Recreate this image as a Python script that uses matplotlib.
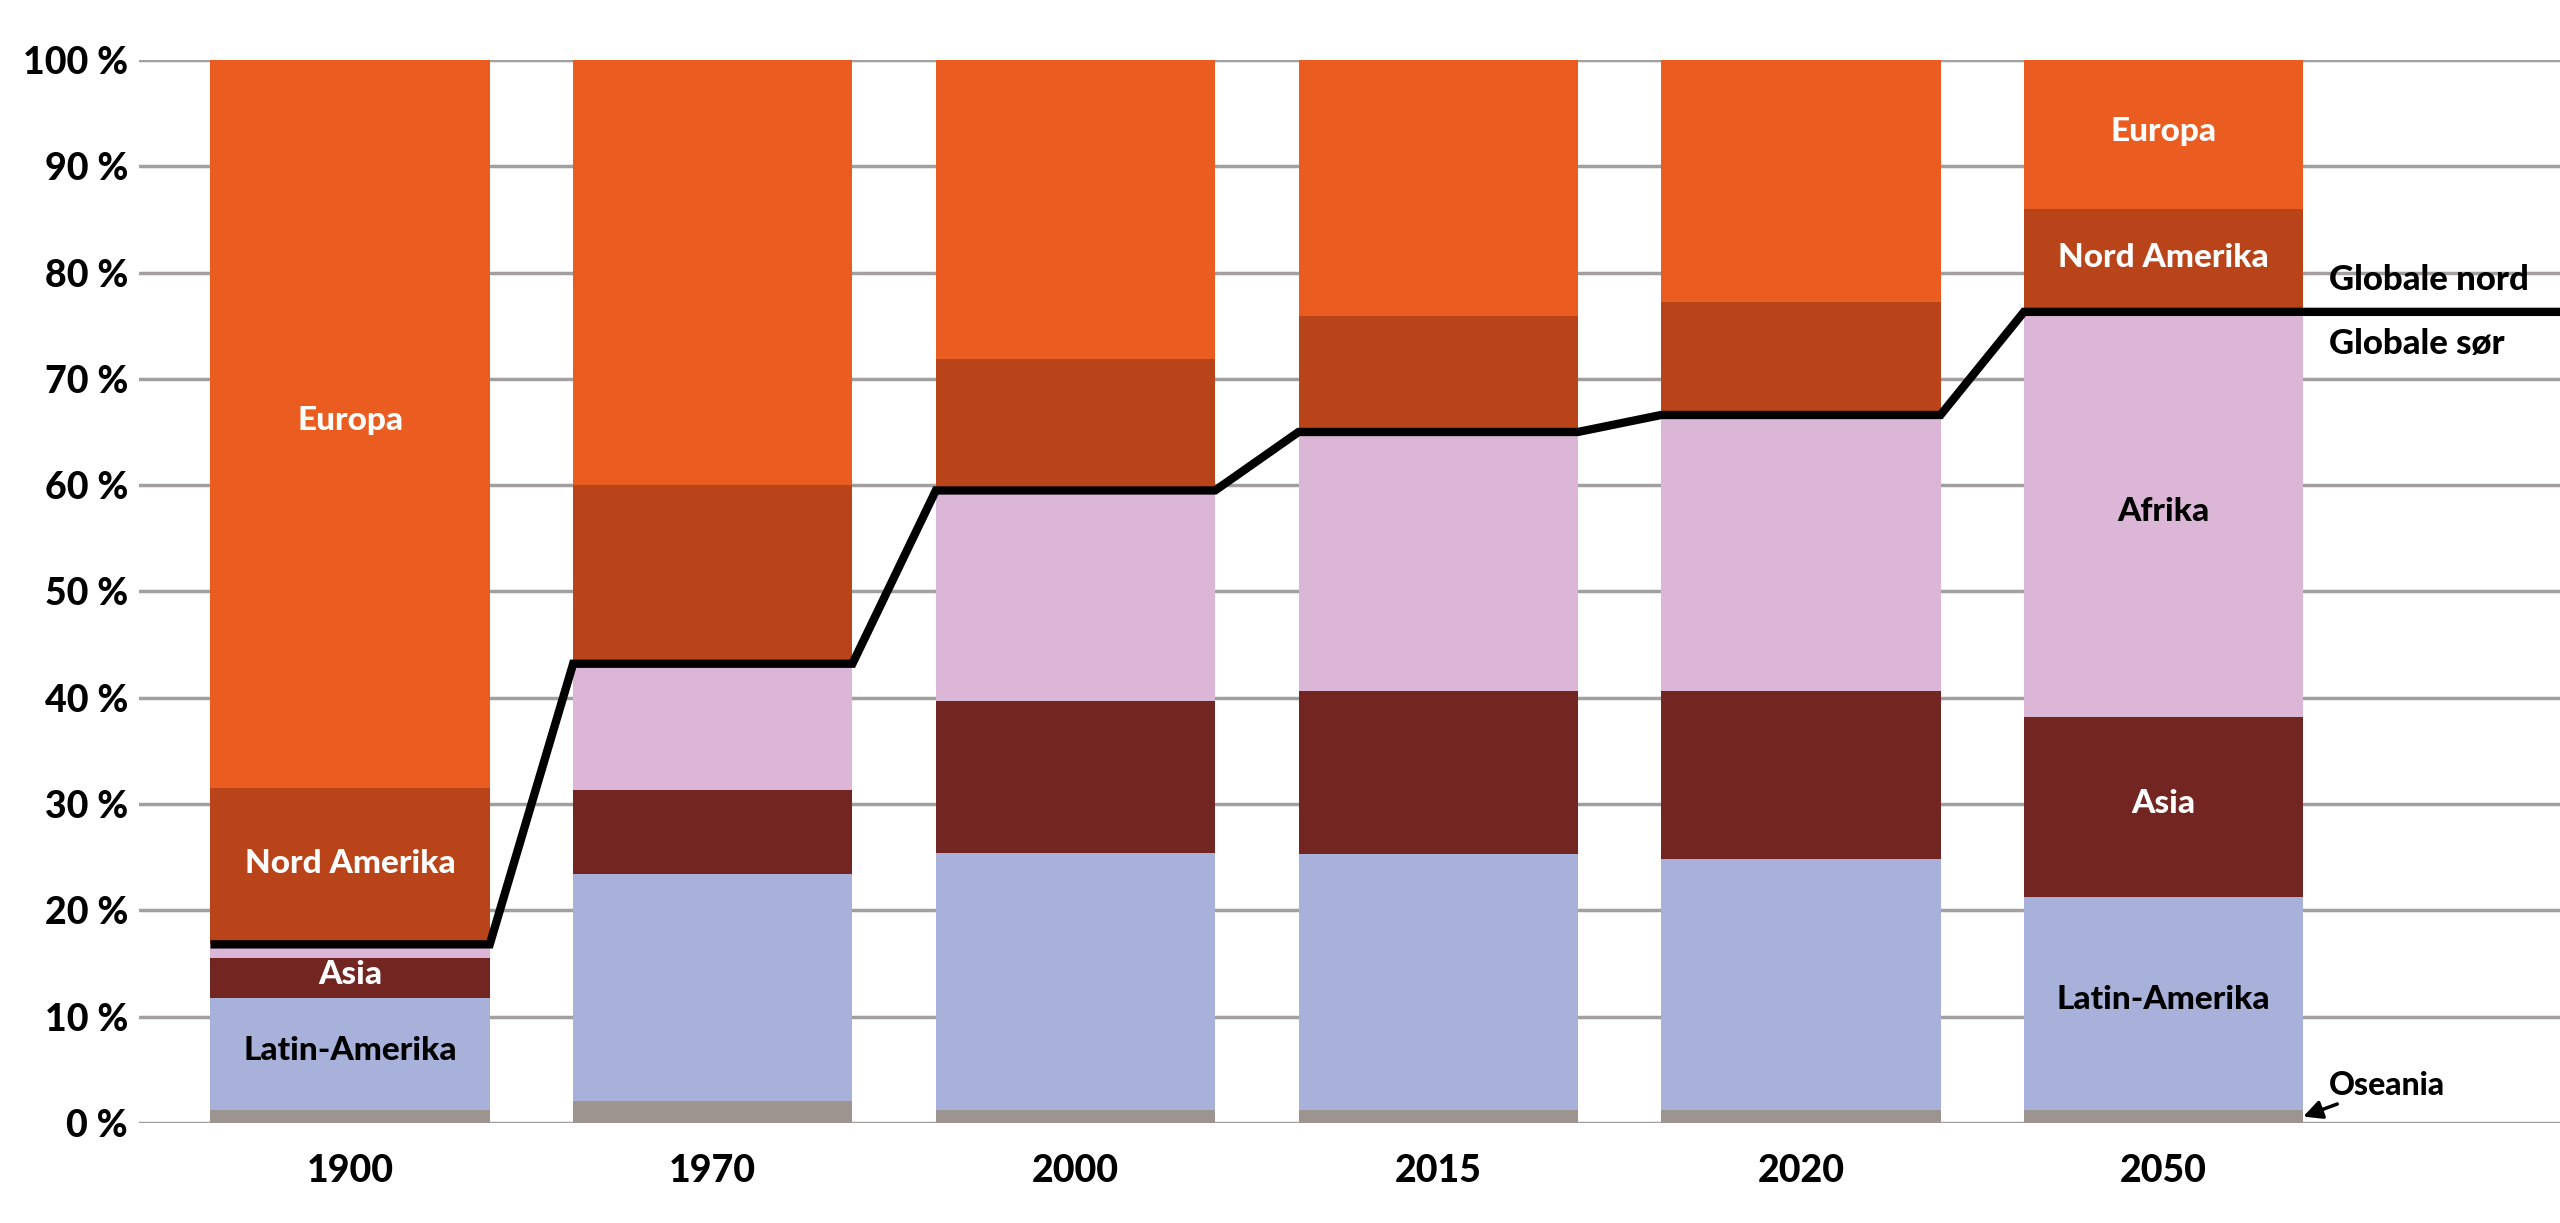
import matplotlib
matplotlib.use("Agg")
import matplotlib.pyplot as plt
import numpy as np

# Share of world Christians by region (percent)
years = ["1900", "1970", "2000", "2015", "2020", "2050"]
oseania = [1.25, 2.05, 1.25, 1.25, 1.25, 1.25]
latin_amerika = [10.55, 21.35, 24.15, 24.05, 23.55, 20.05]
asia = [3.7, 7.9, 14.3, 15.3, 15.8, 16.9]
afrika = [1.3, 11.9, 19.8, 24.4, 26.0, 38.1]
nord_amerika = [14.7, 16.8, 12.4, 10.9, 10.6, 9.7]
europa = [68.5, 40.0, 28.1, 24.1, 22.8, 14.0]

yticks = [0, 10, 20, 30, 40, 50, 60, 70, 80, 90, 100]
ytick_labels = [f"{v} %" for v in yticks]

regions = [
    ("Oseania", oseania, "#9E948F"),
    ("Latin-Amerika", latin_amerika, "#A8B1DA"),
    ("Asia", asia, "#722521"),
    ("Afrika", afrika, "#DBB6D6"),
    ("Nord Amerika", nord_amerika, "#BA4419"),
    ("Europa", europa, "#EB5C20"),
]

# which segments get a text label inside the bar: (bar index, region, colour)
bar_labels = [
    (0, "Europa", "white"),
    (0, "Nord Amerika", "white"),
    (0, "Asia", "white"),
    (0, "Latin-Amerika", "black"),
    (5, "Europa", "white"),
    (5, "Nord Amerika", "white"),
    (5, "Afrika", "black"),
    (5, "Asia", "white"),
    (5, "Latin-Amerika", "black"),
]

W = 900  # heavy weight, close to the original's bold face
plt.rcParams["font.family"] = ["Lato", "DejaVu Sans"]
plt.rcParams["font.weight"] = W

fig = plt.figure(figsize=(25.6, 12.23), dpi=100)
ax = fig.add_axes([0.0543, 0.0818, 0.9457, 0.8692])

x = np.arange(len(years))
width = 0.77
bottom = np.zeros(len(years))
seg_pos = {}
for name, vals, color in regions:
    vals = np.array(vals)
    ax.bar(x, vals, width, bottom=bottom, color=color, zorder=2, linewidth=0)
    seg_pos[name] = (bottom.copy(), vals)
    bottom = bottom + vals

for i, name, col in bar_labels:
    b, v = seg_pos[name]
    ax.text(x[i], b[i] + v[i] / 2 + 0.3, name, ha="center", va="center",
            color=col, fontsize=24, fontweight=W, zorder=4)

# line separating global north and south (top of Afrika)
south = np.array(oseania) + np.array(latin_amerika) + np.array(asia) + np.array(afrika)
xmin, xmax = -0.582, 6.093
lx, ly = [], []
for i in range(len(years)):
    lx += [x[i] - width / 2, x[i] + width / 2]
    ly += [south[i], south[i]]
lx.append(xmax)
ly.append(south[-1])
ax.plot(lx, ly, color="black", lw=6, solid_joinstyle="miter",
        solid_capstyle="butt", zorder=5)

ax.text(x[-1] + width / 2 + 0.07, south[-1] + 1.5, "Globale nord",
        ha="left", va="bottom", fontsize=25, fontweight=W)
ax.text(x[-1] + width / 2 + 0.07, south[-1] - 1.5, "Globale sør",
        ha="left", va="top", fontsize=25, fontweight=W)

ax.annotate("Oseania", xy=(x[-1] + width / 2, 0.6),
            xytext=(x[-1] + width / 2 + 0.07, 3.5),
            ha="left", va="center", fontsize=23, fontweight=W,
            arrowprops=dict(arrowstyle="-|>", color="black", lw=2.5,
                            mutation_scale=28, shrinkA=2, shrinkB=0),
            zorder=6)

ax.set_xlim(xmin, xmax)
ax.set_ylim(0, 100)
ax.set_yticks(yticks)
ax.set_yticklabels(ytick_labels)
ax.set_xticks(x)
ax.set_xticklabels(years)
ax.tick_params(axis="y", length=0, pad=8, labelsize=27)
ax.tick_params(axis="x", length=0, pad=22, labelsize=27)
for lab in ax.get_xticklabels() + ax.get_yticklabels():
    lab.set_fontweight(W)

ax.grid(axis="y", color="#A39F9F", lw=2.5, zorder=0)
ax.set_axisbelow(True)
for s in ax.spines.values():
    s.set_visible(False)

fig.savefig("out.png", dpi=100)
